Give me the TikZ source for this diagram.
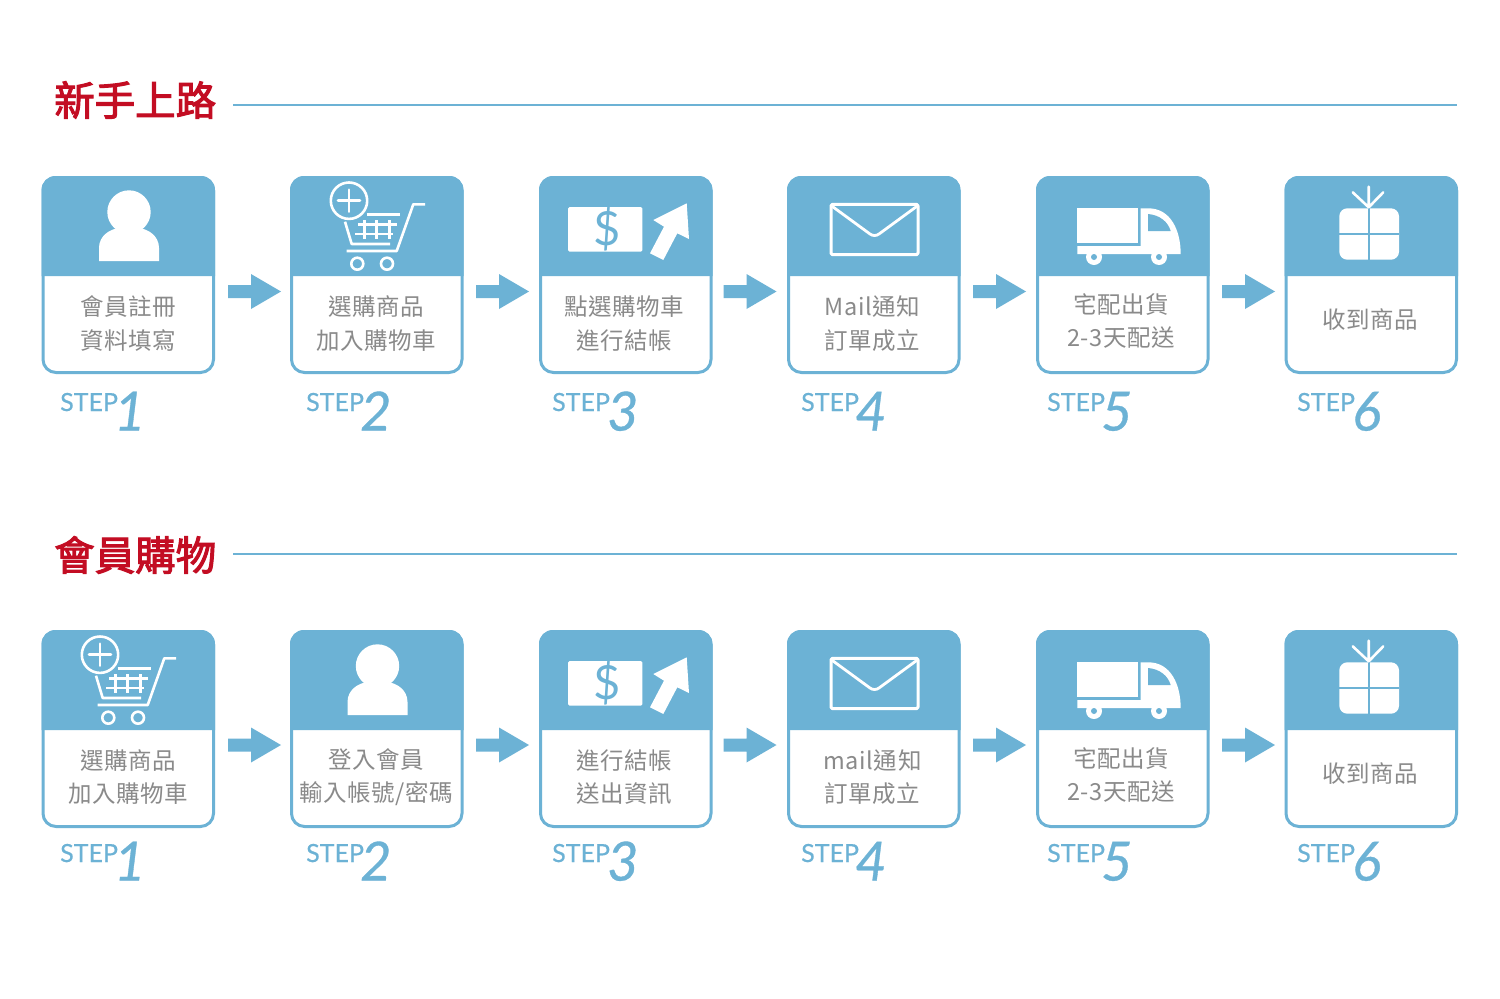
\documentclass[tikz,border=0pt]{standalone}
\usepackage{fontspec}
\setmainfont{Noto Sans CJK TC}
\newfontfamily\labelfont[LetterSpace=2.5]{Noto Sans CJK TC}
\newfontfamily\titlefont[FakeBold=2.6]{Noto Sans CJK TC}
\newfontfamily\stepfont[FakeBold=0.5]{Lato}
\newfontfamily\numfont[FakeBold=0.6]{Lato}
\newfontfamily\dollarfont{Lato}
\definecolor{flowblue}{HTML}{6CB2D5}
\definecolor{lblgray}{HTML}{8A8A8A}
\definecolor{titlered}{HTML}{C30D23}
\tikzset{
  stepframe/.style={draw=flowblue,line width=3pt,rounded corners=13pt,minimum width=170.5pt,minimum height=195pt,inner sep=0pt,outer sep=0pt,anchor=north west,fill=white},
  header/.style={fill=flowblue},
  boxlabel/.style={font=\labelfont\fontsize{23.5}{33.5}\selectfont,text=lblgray,align=center,inner sep=0pt,anchor=center},
  steptext/.style={font=\stepfont\fontsize{25}{25}\selectfont,text=flowblue,inner sep=0pt,anchor=base west},
  stepnum/.style={font=\numfont\fontsize{54}{54}\selectfont\itshape,text=flowblue,inner sep=0pt,anchor=base west},
  titletext/.style={font=\titlefont\fontsize{40.5}{41}\selectfont,text=titlered,inner sep=0pt,anchor=west},
  ruleline/.style={draw=flowblue,line width=1.5pt},
  iconline/.style={draw=white,line width=2.6pt,line cap=round,line join=round},
  iconfill/.style={fill=white}
}
\newcommand{\frameBox}[3]{%
  \node[stepframe] (#1) at (#2+1.5,#3+1.5) {};
  \fill[header] (#2,#3+100) -- (#2,#3+14) .. controls (#2,#3+6) and (#2+6,#3) .. (#2+14,#3) -- (#2+159.5,#3) .. controls (#2+167.5,#3) and (#2+173.5,#3+6) .. (#2+173.5,#3+14) -- (#2+173.5,#3+100) -- cycle;
}
\newcommand{\flowArrow}[3]{%
  \coordinate (#1) at (#2,#3);
  \fill[flowblue] (#1) ++(0,-6.5) -- ++(23,0) -- ++(0,-11) -- ++(30,17.5) -- ++(-30,17.5) -- ++(0,-11) -- ++(-23,0) -- cycle;
}
\newcommand{\stepMark}[6]{% name, stepx, stepbase, numx, numbase, digit
  \node[steptext] (#1s) at (#2,#3) {STEP};
  \node[stepnum] (#1n) at (#4,#5) {#6};
}
\newcommand{\iconPerson}[2]{\begin{scope}[shift={(#1,#2)}]
  \fill[iconfill] (87.5,36) circle (21.7);
  \fill[iconfill] (57.5,85) -- (57.5,72) .. controls (57.5,60) and (68,53) .. (78,52) -- (97,52) .. controls (107,53) and (117.5,60) .. (117.5,72) -- (117.5,85) -- cycle;
\end{scope}}
\newcommand{\iconCart}[2]{\begin{scope}[shift={(#1,#2)}]
  \draw[iconline] (59,24.7) circle (18.2);
  \draw[iconline] (48,24.7) -- (70,24.7) (59,13.7) -- (59,35.7);
  \draw[iconline,line cap=butt] (135,28.3) -- (123.3,28.3) -- (106.7,75) -- (56.7,75);
  \draw[iconline,line cap=butt] (55,45.7) -- (61.7,68) -- (100,68);
  \draw[iconline,line cap=butt] (76.7,38.3) -- (110,38.3);
  \draw[iconline,line cap=butt] (68.3,48.3) -- (106.7,48.3) (65,58) -- (102.7,58);
  \draw[iconline,line cap=butt] (74.3,44) -- (74.3,63) (86.7,44) -- (86.7,63) (99.3,44) -- (99.3,63);
  \draw[iconline] (67.3,87.7) circle (6) (97,87.7) circle (6);
\end{scope}}
\newcommand{\iconMoney}[3]{\begin{scope}[shift={(#1,#2)}]
  \fill[iconfill,rounded corners=1.5pt] (29,31) rectangle (103.3,75.7);
  \node[inner sep=0pt,text=flowblue,font=\dollarfont\fontsize{47}{47}\selectfont] (#3) at (68.3,53.3) {\$};
  \fill[iconfill] (147.7,27.3) -- (114.3,44) -- (125,50.7) -- (111,77.3) -- (124.3,84) -- (138.3,57.3) -- (150,63) -- cycle;
\end{scope}}
\newcommand{\iconMail}[2]{\begin{scope}[shift={(#1,#2)}]
  \draw[iconline,line width=3pt,rounded corners=1.5pt] (44,28.3) rectangle (131,78.7);
  \draw[iconline,line width=2.8pt] (44.7,30) -- (83,58) .. controls (85.5,60) and (89.5,60) .. (92,58) -- (130.3,30);
\end{scope}}
\newcommand{\iconTruck}[2]{\begin{scope}[shift={(#1,#2)}]
  \fill[iconfill] (41.3,32.3) rectangle (102.3,67);
  \fill[iconfill] (41.3,70) -- (104.7,70) -- (104.7,32.3) -- (112.3,32.3) .. controls (135,32.3) and (144.7,55) .. (144.7,78) -- (41.3,78) -- cycle;
  \fill[flowblue] (112,38) .. controls (124,39) and (132,46) .. (134.7,55) -- (112,55) -- cycle;
  \fill[iconfill] (58,81) circle (8) (123,81) circle (8);
  \fill[flowblue] (58,81) circle (3) (123,81) circle (3);
\end{scope}}
\newcommand{\iconGift}[2]{\begin{scope}[shift={(#1,#2)}]
  \fill[iconfill,rounded corners=8pt] (54.3,32.3) rectangle (114,83.7);
  \draw[flowblue,line width=2.5pt] (84,32) -- (84,84) (54,58) -- (114,58);
  \draw[iconline] (83.7,10.7) -- (83.7,31.3) (67.7,16.3) -- (83.7,31.3) -- (98.3,16.3);
\end{scope}}
\begin{document}
\begin{tikzpicture}[x=1pt,y=-1pt]
\useasboundingbox (0,0) rectangle (1500,999);
\fill[white] (0,0) rectangle (1500,999);
% titles
\node[titletext] (t1) at (54,100) {新手上路};
\coordinate (t1r) at (1457,105);
\draw[ruleline] (233,105) -- (t1r);
\node[titletext] (t2) at (54,555) {會員購物};
\coordinate (t2r) at (1457,554);
\draw[ruleline] (233,554) -- (t2r);
% row 1
\frameBox{a1}{41.5}{176}\frameBox{a2}{290}{176}\frameBox{a3}{539}{176}\frameBox{a4}{787}{176}\frameBox{a5}{1036}{176}\frameBox{a6}{1284.5}{176}
\iconPerson{41.5}{176}\iconCart{290}{176}\iconMoney{539}{176}{ma}\iconMail{787}{176}\iconTruck{1036}{176}\iconGift{1285}{176}
\node[boxlabel] (la1) at (128,323.5) {會員註冊\\資料填寫};
\node[boxlabel] (la2) at (376,323.5) {選購商品\\加入購物車};
\node[boxlabel] (la3) at (624.5,323.5) {點選購物車\\進行結帳};
\node[boxlabel] (la4) at (872.5,323.5) {Mail通知\\訂單成立};
\node[boxlabel] (la5) at (1121,321) {宅配出貨\\2-3天配送};
\node[boxlabel] (la6) at (1370,320) {收到商品};
\flowArrow{ar1}{228}{291.5}\flowArrow{ar2}{476}{291.5}\flowArrow{ar3}{723.5}{291.5}\flowArrow{ar4}{973}{291.5}\flowArrow{ar5}{1222}{291.5}
\stepMark{sa1}{60}{411}{114}{430.5}{1}
\stepMark{sa2}{306}{411}{360}{430.5}{2}
\stepMark{sa3}{552}{411}{607}{430.5}{3}
\stepMark{sa4}{801}{411}{855}{430.5}{4}
\stepMark{sa5}{1047}{411}{1101}{430.5}{5}
\stepMark{sa6}{1297}{411}{1352}{430.5}{6}
% row 2
\frameBox{b1}{41.5}{630}\frameBox{b2}{290}{630}\frameBox{b3}{539}{630}\frameBox{b4}{787}{630}\frameBox{b5}{1036}{630}\frameBox{b6}{1284.5}{630}
\iconCart{41}{630}\iconPerson{290}{630}\iconMoney{539}{630}{mb}\iconMail{787}{630}\iconTruck{1036}{630}\iconGift{1285}{630}
\node[boxlabel] (lb1) at (128,777) {選購商品\\加入購物車};
\node[boxlabel] (lb2) at (376,777) {登入會員\\輸入帳號/密碼};
\node[boxlabel] (lb3) at (624.5,777) {進行結帳\\送出資訊};
\node[boxlabel] (lb4) at (872.5,777) {mail通知\\訂單成立};
\node[boxlabel] (lb5) at (1121,775) {宅配出貨\\2-3天配送};
\node[boxlabel] (lb6) at (1370,773.5) {收到商品};
\flowArrow{br1}{228}{745}\flowArrow{br2}{476}{745}\flowArrow{br3}{723.5}{745}\flowArrow{br4}{973}{745}\flowArrow{br5}{1222}{745}
\stepMark{sb1}{60}{862}{114}{880.5}{1}
\stepMark{sb2}{306}{862}{360}{880.5}{2}
\stepMark{sb3}{552}{862}{607}{880.5}{3}
\stepMark{sb4}{801}{862}{855}{880.5}{4}
\stepMark{sb5}{1047}{862}{1101}{880.5}{5}
\stepMark{sb6}{1297}{862}{1352}{880.5}{6}
\end{tikzpicture}
\end{document}
